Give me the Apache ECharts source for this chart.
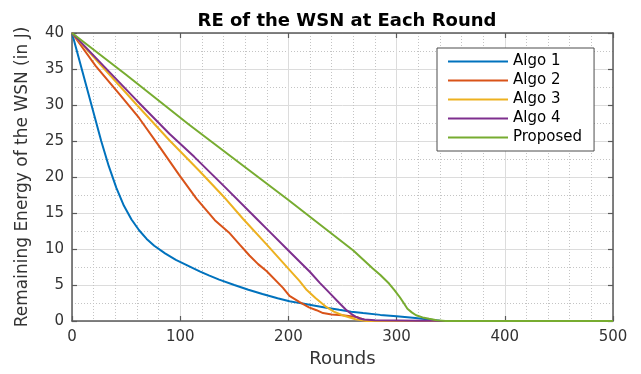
<!DOCTYPE html>
<html>
<head>
<meta charset="utf-8">
<title>RE of the WSN at Each Round</title>
<script src="https://cdn.jsdelivr.net/npm/echarts@6/dist/echarts.min.js"></script>
<style>
  html, body { margin: 0; padding: 0; background: #ffffff; }
  #chart { width: 641px; height: 374px; }
</style>
</head>
<body>
<div id="chart"></div>
<script>
// Remaining energy (J) of the network against the round number, per algorithm.
const seriesNames = ['Algo 1', 'Algo 2', 'Algo 3', 'Algo 4', 'Proposed'];

const algo1Rounds = [0, 9, 18, 27, 34, 41, 48, 55, 62, 69, 76, 86, 96, 107, 118, 127, 136, 150, 163, 176, 190, 201, 212, 222, 235, 247, 258, 269, 285, 300, 315, 330, 340, 350, 500];
const algo1Energy = [40, 35, 30, 25, 21.5, 18.5, 16.0, 14.1, 12.6, 11.4, 10.45, 9.4, 8.5, 7.7, 6.9, 6.3, 5.75, 5.0, 4.35, 3.75, 3.15, 2.75, 2.45, 2.2, 1.85, 1.55, 1.3, 1.1, 0.85, 0.65, 0.45, 0.2, 0.05, 0, 0];

const algo2Rounds = [0, 22, 45, 62, 80, 99, 115, 132, 145, 155, 164, 172, 180, 195, 201, 210, 219, 226, 232, 240, 250, 263, 268, 273, 276, 500];
const algo2Energy = [40, 35.4, 31.3, 28.2, 24.4, 20.3, 17.0, 14.0, 12.3, 10.6, 9.1, 7.9, 6.9, 4.6, 3.5, 2.65, 1.9, 1.5, 1.1, 0.9, 0.8, 0.55, 0.3, 0.05, 0, 0];

const algo3Rounds = [0, 30, 60, 90, 118, 140, 158, 180, 201, 210, 217, 225, 235, 242, 250, 262, 272, 500];
const algo3Energy = [40, 35.0, 30.0, 25.1, 20.8, 17.3, 14.2, 10.6, 7.1, 5.6, 4.3, 3.2, 1.95, 1.3, 0.8, 0.25, 0, 0];

const algo4Rounds = [0, 30, 60, 90, 113, 140, 172, 180, 200, 210, 220, 229, 238, 247, 253, 258, 262, 266, 270, 280, 300, 320, 335, 340, 500];
const algo4Energy = [40, 35.3, 30.6, 26, 22.8, 18.8, 14, 12.8, 9.8, 8.3, 6.8, 5.3, 3.9, 2.5, 1.6, 1.0, 0.6, 0.35, 0.2, 0.1, 0.08, 0.05, 0.02, 0, 0];

const proposedRounds = [0, 50, 108, 150, 200, 230, 260, 278, 285, 293, 298, 303, 307, 310, 314, 318, 324, 330, 337, 345, 500];
const proposedEnergy = [40, 34.2, 27.3, 22.5, 16.8, 13.3, 9.8, 7.3, 6.4, 5.2, 4.3, 3.3, 2.4, 1.7, 1.2, 0.8, 0.5, 0.3, 0.1, 0, 0];

const roundTicks = [0, 100, 200, 300, 400, 500];
const energyTicks = [0, 5, 10, 15, 20, 25, 30, 35, 40];

const palette = ['#0072BD', '#D95319', '#EDB120', '#7E2F8E', '#77AC30'];
const allRounds = [algo1Rounds, algo2Rounds, algo3Rounds, algo4Rounds, proposedRounds];
const allEnergy = [algo1Energy, algo2Energy, algo3Energy, algo4Energy, proposedEnergy];

const FONT = 'DejaVu Sans';
const AXIS_COLOR = '#5a5a5a';
const LABEL_COLOR = '#333333';

function pairs(xs, ys) {
  return xs.map((x, i) => [x, ys[i]]);
}

const chart = echarts.init(document.getElementById('chart'), null, { renderer: 'canvas' });

const grid = { left: 72, top: 33, width: 541, height: 288 };

const boxAxis = (extra) => Object.assign({
  type: 'value',
  axisLine: { show: true, onZero: false, lineStyle: { color: AXIS_COLOR, width: 1.5 } },
  axisTick: { show: true, inside: true, length: 5, lineStyle: { color: AXIS_COLOR, width: 1.2 } },
  axisLabel: { show: false },
  splitLine: { show: false }
}, extra);

chart.setOption({
  animation: false,
  backgroundColor: '#ffffff',
  title: {
    text: 'RE of the WSN at Each Round',
    left: 342,
    top: 7,
    textAlign: 'center',
    textStyle: { fontFamily: FONT, fontSize: 18, fontWeight: 'bold', color: '#000000' }
  },
  grid: grid,
  legend: {
    data: seriesNames,
    orient: 'vertical',
    left: 437,
    top: 48,
    icon: 'rect',
    itemWidth: 60,
    itemHeight: 2,
    itemGap: 4,
    padding: [6, 12, 6, 11],
    backgroundColor: '#ffffff',
    borderColor: '#4d4d4d',
    borderWidth: 1,
    textStyle: { fontFamily: FONT, fontSize: 15, lineHeight: 15, color: '#000000' }
  },
  xAxis: [
    {
      type: 'value',
      min: roundTicks[0],
      max: roundTicks[roundTicks.length - 1],
      interval: roundTicks[1] - roundTicks[0],
      name: 'Rounds',
      nameLocation: 'middle',
      nameGap: 27,
      nameTextStyle: { fontFamily: FONT, fontSize: 18, color: LABEL_COLOR },
      axisLine: { show: true, onZero: false, lineStyle: { color: AXIS_COLOR, width: 1.5 } },
      axisTick: { show: true, inside: true, length: 5, lineStyle: { color: AXIS_COLOR, width: 1.2 } },
      axisLabel: { fontFamily: FONT, fontSize: 15, color: LABEL_COLOR, margin: 9 },
      splitLine: { show: true, lineStyle: { color: '#dcdcdc', width: 1 } },
      minorTick: { show: false, splitNumber: 5 },
      minorSplitLine: { show: true, lineStyle: { color: '#c4c4c4', width: 1, type: [1, 2] } }
    },
    boxAxis({
      position: 'top',
      min: roundTicks[0],
      max: roundTicks[roundTicks.length - 1],
      interval: roundTicks[1] - roundTicks[0]
    })
  ],
  yAxis: [
    {
      type: 'value',
      min: energyTicks[0],
      max: energyTicks[energyTicks.length - 1],
      interval: energyTicks[1] - energyTicks[0],
      name: 'Remaining Energy of the WSN (in J)',
      nameLocation: 'middle',
      nameGap: 41,
      nameTextStyle: { fontFamily: FONT, fontSize: 17, color: LABEL_COLOR },
      axisLine: { show: true, onZero: false, lineStyle: { color: AXIS_COLOR, width: 1.5 } },
      axisTick: { show: true, inside: true, length: 5, lineStyle: { color: AXIS_COLOR, width: 1.2 } },
      axisLabel: { fontFamily: FONT, fontSize: 15, color: LABEL_COLOR, margin: 8 },
      splitLine: { show: true, lineStyle: { color: '#dcdcdc', width: 1 } },
      minorTick: { show: false, splitNumber: 2 },
      minorSplitLine: { show: true, lineStyle: { color: '#c4c4c4', width: 1, type: [1, 2] } }
    },
    boxAxis({
      position: 'right',
      min: energyTicks[0],
      max: energyTicks[energyTicks.length - 1],
      interval: energyTicks[1] - energyTicks[0]
    })
  ],
  series: seriesNames.map((name, i) => ({
    name: name,
    type: 'line',
    xAxisIndex: 0,
    yAxisIndex: 0,
    data: pairs(allRounds[i], allEnergy[i]),
    showSymbol: false,
    symbol: 'none',
    smooth: false,
    clip: true,
    color: palette[i],
    lineStyle: { color: palette[i], width: 2 },
    z: 2 + i
  }))
});
</script>
</body>
</html>
